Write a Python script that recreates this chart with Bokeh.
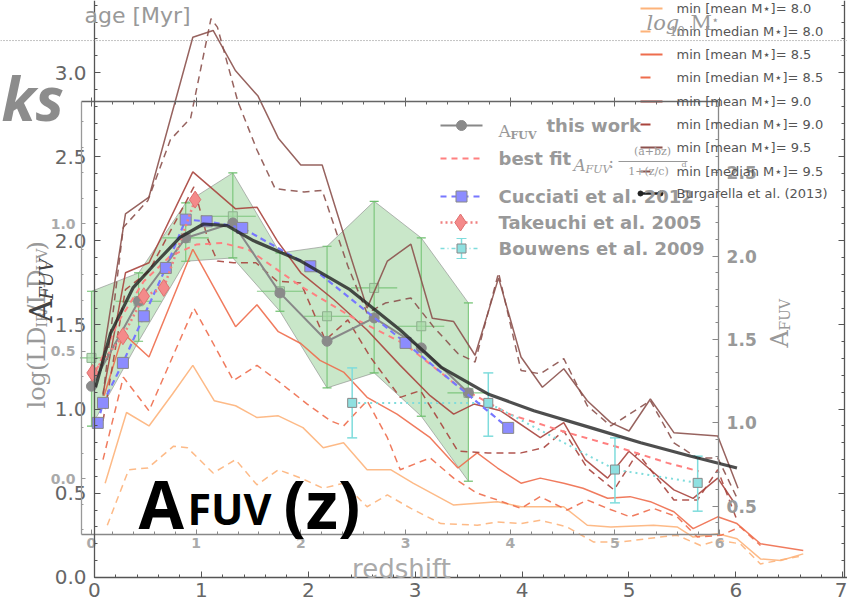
import math
from bokeh.plotting import figure
from bokeh.models import (Range1d, LinearAxis, FixedTicker, PrintfTickFormatter,
                          Label, Span)
from bokeh.embed import file_html
from bokeh.resources import INLINE

# ------------------------------------------------------------------
# Data
# ------------------------------------------------------------------
# Stellar-mass selected curves (outer axes: redshift vs value)
m80_mean_z = [0.10, 0.30, 0.51, 0.73, 0.92, 1.12, 1.32, 1.52, 1.72, 1.95, 2.14, 2.33, 2.55, 2.77, 2.98,
              3.36, 3.77, 3.99, 4.39, 4.61, 4.83, 5.23, 5.45, 5.60, 5.83, 6.01, 6.23, 6.42, 6.63]
m80_mean_v = [0.56, 0.98, 0.90, 1.09, 1.26, 1.05, 1.02, 0.95, 0.96, 0.89, 0.77, 0.80, 0.64, 0.64, 0.56,
              0.43, 0.45, 0.42, 0.42, 0.31, 0.30, 0.31, 0.30, 0.24, 0.26, 0.23, 0.11, 0.10, 0.14]
m80_med_z = [0.12, 0.32, 0.50, 0.74, 0.87, 1.11, 1.32, 1.52, 1.72, 1.93, 2.14, 2.33, 2.55, 2.74, 2.96, 3.24,
             3.58, 3.77, 3.99, 4.17, 4.42, 4.67, 4.92, 5.29, 5.45, 5.67, 5.83, 6.04, 6.23, 6.39, 6.63]
m80_med_v = [0.31, 0.64, 0.65, 0.78, 0.77, 0.62, 0.70, 0.55, 0.64, 0.59, 0.53, 0.56, 0.42, 0.49, 0.41, 0.32,
             0.31, 0.33, 0.32, 0.34, 0.30, 0.21, 0.21, 0.24, 0.25, 0.19, 0.22, 0.20, 0.08, 0.10, 0.13]
m85_mean_z = [0.09, 0.27, 0.51, 0.92, 1.32, 1.52, 1.72, 1.93, 2.11, 2.33, 2.55, 2.83, 3.14, 3.40, 3.58,
              3.77, 3.99, 4.17, 4.39, 4.57, 4.80, 5.01, 5.20, 5.42, 5.60, 5.83, 6.01, 6.23, 6.63]
m85_mean_v = [1.08, 1.45, 1.31, 1.95, 1.49, 1.62, 1.46, 1.39, 1.29, 1.22, 1.07, 0.97, 0.83, 0.65, 0.74,
              0.65, 0.56, 0.59, 0.56, 0.53, 0.47, 0.48, 0.45, 0.39, 0.29, 0.36, 0.32, 0.20, 0.16]
m85_med_z = [0.08, 0.27, 0.51, 0.93, 1.30, 1.52, 1.71, 1.99, 2.21, 2.33, 2.55, 2.74, 2.86, 3.14, 3.36,
             3.58, 3.77, 3.99, 4.17, 4.42, 4.61, 4.80, 5.01, 5.23, 5.45, 5.64, 5.86, 6.04, 6.23]
m85_med_v = [0.70, 1.19, 0.99, 1.60, 1.17, 1.26, 1.17, 1.03, 0.93, 0.90, 1.05, 0.83, 0.64, 0.71, 0.59,
             0.50, 0.46, 0.41, 0.48, 0.40, 0.46, 0.41, 0.36, 0.41, 0.36, 0.24, 0.25, 0.30, 0.19]
m90_mean_z = [0.08, 0.29, 0.51, 0.92, 1.32, 1.52, 1.71, 1.93, 2.24, 2.55, 2.86, 3.14, 3.36, 3.55, 3.80,
              4.17, 4.39, 4.59, 4.80, 5.00, 5.20, 5.42, 5.60, 5.83, 6.01]
m90_mean_v = [1.09, 1.81, 1.87, 2.41, 2.19, 2.20, 2.00, 1.81, 1.65, 1.47, 1.26, 1.08, 0.97, 1.03, 0.99,
              0.83, 0.92, 0.70, 0.59, 0.75, 0.64, 0.52, 0.47, 0.59, 0.42]
m90_med_z = [0.08, 0.29, 0.51, 0.93, 1.06, 1.15, 1.30, 1.51, 1.71, 1.93, 2.16, 2.37, 2.58, 2.86, 3.05,
             3.40, 3.68, 3.99, 4.20, 4.39, 4.61, 4.86, 5.08, 5.42, 5.64, 5.83, 6.01]
m90_med_v = [0.93, 1.71, 1.82, 2.32, 2.01, 1.88, 1.87, 1.87, 1.76, 1.75, 1.41, 1.53, 1.31, 1.07, 1.11,
             0.75, 0.74, 0.74, 0.77, 0.87, 0.65, 0.52, 0.74, 0.46, 0.46, 0.64, 0.34]
m95_mean_z = [0.06, 0.29, 0.51, 0.92, 1.11, 1.32, 1.53, 1.72, 1.93, 2.13, 2.37, 2.55, 2.74, 2.96, 3.16,
              3.36, 3.56, 3.78, 3.99, 4.19, 4.39, 4.61, 4.83, 5.00, 5.20, 5.42, 5.83, 6.02]
m95_mean_v = [1.23, 2.16, 2.26, 3.21, 3.25, 3.01, 2.86, 2.61, 2.45, 2.45, 1.96, 1.60, 1.88, 1.98, 1.54,
              1.52, 1.32, 1.78, 1.31, 1.13, 1.24, 1.05, 0.92, 0.87, 1.06, 0.86, 0.84, 0.53]
m95_med_z = [0.08, 0.27, 0.50, 0.71, 0.90, 1.09, 1.15, 1.34, 1.52, 1.69, 1.96, 2.13, 2.37, 2.55, 2.72,
             2.96, 3.17, 3.40, 3.56, 3.78, 3.99, 4.17, 4.39, 4.61, 4.83, 5.20, 5.42, 5.64, 5.83, 6.02]
m95_med_v = [1.08, 2.08, 2.24, 2.60, 2.73, 3.32, 3.27, 2.83, 2.54, 2.31, 2.29, 2.30, 1.85, 1.57, 1.63,
             1.66, 1.49, 1.33, 1.28, 1.81, 1.23, 1.21, 1.30, 1.02, 0.90, 1.05, 0.80, 0.71, 0.71, 0.46]

# Burgarella et al. (2013)
burg_z = [0.01, 0.15, 0.36, 0.59, 0.80, 1.02, 1.24, 1.49, 1.93, 2.39, 2.86, 3.24, 3.68, 4.11, 4.64,
          5.11, 5.58, 6.01]
burg_a = [1.13, 1.45, 1.72, 1.88, 2.02, 2.10, 2.09, 2.00, 1.88, 1.71, 1.47, 1.25, 1.09, 0.99, 0.89,
          0.80, 0.72, 0.65]

# A_FUV this work (inner axes: redshift vs A_FUV)
bins_z = [0.0, 0.45, 0.9, 1.35, 1.8, 2.25, 2.7, 3.15, 3.6]
this_work = [1.22, 1.73, 2.11, 2.20, 1.78, 1.49, 1.63, 1.45, 1.18]
band_hi = [1.79, 1.90, 2.32, 2.50, 2.02, 2.06, 2.33, 2.11, 1.72]
band_lo = [0.98, 1.49, 1.97, 1.99, 1.67, 1.21, 1.30, 1.04, 0.65]
green_sq = [1.39, 1.73, 2.11, 2.24, 1.79, 1.64, 1.81, 1.58, 1.18]
green_xerr = [0.11, 0.22, 0.22, 0.22, 0.22, 0.22, 0.22, 0.22, 0.20]

# best fit A_FUV = (a+bz)/(1+(z/c)^d), sampled along the drawn curve
fit_z = [0.0, 0.25, 0.5, 0.75, 1.0, 1.25, 1.5, 2.0, 2.5, 3.0, 3.5, 4.0, 4.5, 5.0, 5.5, 5.8]
fit_a = [1.25, 1.60, 1.85, 2.00, 2.07, 2.08, 2.04, 1.82, 1.63, 1.47, 1.22, 1.05, 0.95, 0.86, 0.76, 0.71]

# Cucciati et al. 2012
cuc_z = [0.06, 0.11, 0.30, 0.50, 0.71, 0.90, 1.10, 1.44, 2.09, 3.00, 3.98]
cuc_a = [1.00, 1.12, 1.36, 1.64, 1.93, 2.22, 2.21, 2.17, 1.94, 1.48, 0.97]

# Takeuchi et al. 2005
tak_z = [0.01, 0.30, 0.50, 0.69, 0.99]
tak_a = [1.30, 1.52, 1.76, 1.81, 2.34]

# Bouwens et al. 2009
bou_z = [2.49, 3.79, 5.00, 5.79]
bou_a = [1.12, 1.12, 0.72, 0.64]
bou_up = [0.21, 0.18, 0.19, 0.16]
bou_dn = [0.21, 0.20, 0.20, 0.17]

# Tick positions / labels
outer_xticks = [0, 1, 2, 3, 4, 5, 6, 7]
outer_yticks = [0.0, 0.5, 1.0, 1.5, 2.0, 2.5, 3.0]
inner_xticks = [0, 1, 2, 3, 4, 5, 6]
inner_rticks = [0.5, 1.0, 1.5, 2.0, 2.5]
inner_lticks = [0.0, 0.5, 1.0]

mass_labels = ["min [mean M\u22c6]= 8.0", "min [median M\u22c6]= 8.0",
               "min [mean M\u22c6]= 8.5", "min [median M\u22c6]= 8.5",
               "min [mean M\u22c6]= 9.0", "min [median M\u22c6]= 9.0",
               "min [mean M\u22c6]= 9.5", "min [median M\u22c6]= 9.5"]

# ------------------------------------------------------------------
# Figure
# ------------------------------------------------------------------
p = figure(width=847, height=603, x_range=Range1d(-0.879, 7.044), y_range=Range1d(-0.155, 3.428),
           output_backend="svg", toolbar_location=None, min_border=0, title=None,
           x_axis_location=None, y_axis_location=None, outline_line_color=None,
           background_fill_color="white", border_fill_color="white")
p.grid.visible = False

p.extra_x_ranges = {"z": Range1d(-0.869, 7.221), "sx": Range1d(0, 847)}
p.extra_y_ranges = {"afuv": Range1d(-0.084, 3.535), "ld": Range1d(-0.490, 1.875),
                    "sy": Range1d(603, 0)}

INNER = dict(x_range_name="z", y_range_name="afuv")
SCR = dict(x_range_name="sx", y_range_name="sy")
ONE_DEC = PrintfTickFormatter(format="%.1f")


def minor(a, b, step):
    n = int(round((b - a) / step))
    return [round(a + i * step, 3) for i in range(n + 1)]


def style(ax, size, color, line="#555"):
    ax.axis_line_color = line
    ax.axis_line_width = 1.3
    ax.major_tick_line_color = line
    ax.minor_tick_line_color = line
    ax.major_label_text_color = color
    ax.major_label_text_font = "DejaVu Sans"
    ax.major_label_text_font_size = f"{size}px"


def bare_axis(side, loc, bounds, majors, minors, major_in, minor_in, line, major_out=0, **names):
    """An unlabelled frame edge: one axis carries the long ticks, a second the short ones."""
    a1 = LinearAxis(fixed_location=loc, bounds=bounds, ticker=FixedTicker(ticks=[], minor_ticks=majors),
                    minor_tick_in=major_in, minor_tick_out=major_out, **names)
    a1.axis_line_color = line
    a1.axis_line_width = 1.3
    a1.minor_tick_line_color = line
    p.add_layout(a1, side)
    a2 = LinearAxis(fixed_location=loc, bounds=bounds, ticker=FixedTicker(ticks=[], minor_ticks=minors),
                    minor_tick_in=minor_in, minor_tick_out=0, **names)
    a2.axis_line_color = None
    a2.minor_tick_line_color = line
    p.add_layout(a2, side)


# outer axes
ax = LinearAxis(fixed_location=0, bounds=(0, 3.43),
                ticker=FixedTicker(ticks=outer_yticks, minor_ticks=minor(0, 3.4, 0.1)),
                major_tick_in=6, major_tick_out=0, minor_tick_in=3, minor_tick_out=0,
                major_label_standoff=8, formatter=ONE_DEC)
style(ax, 20, "#666")
p.add_layout(ax, "left")

ax = LinearAxis(fixed_location=0, bounds=(0, 7.05),
                ticker=FixedTicker(ticks=outer_xticks, minor_ticks=minor(0, 7, 0.2)),
                major_tick_in=6, major_tick_out=0, minor_tick_in=3, minor_tick_out=0,
                major_label_standoff=6)
style(ax, 20, "#666")
p.add_layout(ax, "below")

bare_axis("right", 7.02, (0, 3.43), outer_yticks, minor(0, 3.4, 0.1), 6, 3, "#555")

# inner axes
ax = LinearAxis(fixed_location=0.33, bounds=(-0.095, 5.99), **INNER,
                ticker=FixedTicker(ticks=inner_xticks, minor_ticks=minor(0, 6, 0.2)),
                major_tick_in=5, major_tick_out=0, minor_tick_in=3, minor_tick_out=0,
                major_label_standoff=3)
style(ax, 14, "#aaa", line="#888")
ax.major_label_text_font_style = "bold"
p.add_layout(ax, "below")

bare_axis("above", 2.93, (-0.095, 5.99), inner_xticks, minor(0, 6, 0.2), 5, 3, "#666",
          major_out=4, **INNER)

ax = LinearAxis(fixed_location=5.99, bounds=(0.33, 2.93), **INNER,
                ticker=FixedTicker(ticks=inner_rticks, minor_ticks=minor(0.4, 2.9, 0.1)),
                major_tick_in=6, major_tick_out=0, minor_tick_in=3, minor_tick_out=0,
                major_label_standoff=8, formatter=ONE_DEC)
style(ax, 17, "#999", line="#888")
ax.major_label_text_font_style = "bold"
p.add_layout(ax, "right")

ax = LinearAxis(fixed_location=-0.095, bounds=(-0.22, 1.478), x_range_name="z", y_range_name="ld",
                ticker=FixedTicker(ticks=inner_lticks, minor_ticks=minor(-0.2, 1.4, 0.1)),
                major_tick_in=4, major_tick_out=0, minor_tick_in=2, minor_tick_out=0,
                major_label_standoff=6, formatter=ONE_DEC)
style(ax, 14, "#aaa", line="#999")
ax.major_label_text_font_style = "bold"
p.add_layout(ax, "left")

p.add_layout(Span(location=3.19, dimension="width", line_color="#888",
                  line_dash="1 2", line_width=1))

# ------------------------------------------------------------------
# Inner band (this work, uncertainty envelope)
# ------------------------------------------------------------------
p.varea(x=bins_z, y1=band_lo, y2=band_hi, fill_color="#4cae4c", fill_alpha=0.3, **INNER)
p.line(bins_z, band_hi, line_color="#888", line_alpha=0.6, line_width=1, **INNER)
p.line(bins_z, band_lo, line_color="#888", line_alpha=0.6, line_width=1, **INNER)
p.segment(x0=bins_z, y0=band_lo, x1=bins_z, y1=band_hi, line_color="#6cbf6c",
          line_alpha=0.8, line_width=1.2, **INNER)
p.scatter(bins_z, band_lo, marker="dash", size=9, line_color="#6cbf6c", line_width=1.2, **INNER)
p.scatter(bins_z, band_hi, marker="dash", size=9, line_color="#6cbf6c", line_width=1.2, **INNER)
p.segment(x0=[z - e for z, e in zip(bins_z, green_xerr)], y0=green_sq,
          x1=[z + e for z, e in zip(bins_z, green_xerr)], y1=green_sq,
          line_color="#6cbf6c", line_alpha=0.8, line_width=1.2, **INNER)
p.scatter(bins_z, green_sq, marker="square", size=9, fill_color="#a6d8a6", fill_alpha=0.7,
          line_color="#8fb08f", **INNER)

# ------------------------------------------------------------------
# Stellar-mass curves
# ------------------------------------------------------------------
c80, c85, c90, c95 = "#fdb37a", "#ee6d4d", "#a9443d", "#8c524e"
mass_curves = [
    (m80_mean_z, m80_mean_v, c80, "solid"), (m80_med_z, m80_med_v, c80, "7 5"),
    (m85_mean_z, m85_mean_v, c85, "solid"), (m85_med_z, m85_med_v, c85, "7 5"),
    (m90_mean_z, m90_mean_v, c90, "solid"), (m90_med_z, m90_med_v, c90, "7 5"),
    (m95_mean_z, m95_mean_v, c95, "solid"), (m95_med_z, m95_med_v, c95, "7 5"),
]
for zs, vs, col, dash in mass_curves:
    p.line(zs, vs, line_color=col, line_width=1.5, line_dash=dash, line_alpha=0.9)

# ------------------------------------------------------------------
# Literature and this work
# ------------------------------------------------------------------
bou_lo = [a - d for a, d in zip(bou_a, bou_dn)]
bou_hi = [a + u for a, u in zip(bou_a, bou_up)]

p.line(fit_z, fit_a, line_color="#ff8080", line_width=2, line_dash="6 5", **INNER)
p.line(bou_z, bou_a, line_color="#7fdcdc", line_width=2, line_dash="2 4", **INNER)
p.segment(x0=bou_z, y0=bou_lo, x1=bou_z, y1=bou_hi, line_color="#7fdcdc", line_width=1.5, **INNER)
p.scatter(bou_z, bou_lo, marker="dash", size=10, line_color="#7fdcdc", line_width=1.5, **INNER)
p.scatter(bou_z, bou_hi, marker="dash", size=10, line_color="#7fdcdc", line_width=1.5, **INNER)
p.scatter(bou_z, bou_a, marker="square", size=9, fill_color="#8ee0e0", line_color="#888", **INNER)

p.line(bins_z, this_work, line_color="#888", line_width=2, **INNER)
p.scatter(bins_z, this_work, marker="circle", size=10, fill_color="#8a8a8a", line_color="#8a8a8a", **INNER)

p.line(cuc_z, cuc_a, line_color="#7777ff", line_width=2.2, line_dash="6 4", **INNER)
p.scatter(cuc_z, cuc_a, marker="square", size=11, fill_color="#8c8cff", line_color="#888", **INNER)

p.line(tak_z, tak_a, line_color="#f08080", line_width=2.5, line_dash="2 3", **INNER)
p.scatter(tak_z, tak_a, marker="diamond", size=17, fill_color="#f48a8a", line_color="#e07070", **INNER)

p.line(burg_z, burg_a, line_color="#222", line_width=3.2, line_alpha=0.8)

# ------------------------------------------------------------------
# Legends (drawn in pixel space)
# ------------------------------------------------------------------
def txt(x, y, s, size, color="#999", font="DejaVu Sans", style_="normal", align="left",
        baseline="middle", angle=0.0):
    p.add_layout(Label(x=x, y=y, text=s, **SCR, text_font=font, text_font_size=f"{size}px",
                       text_color=color, text_font_style=style_, text_align=align,
                       text_baseline=baseline, angle=angle))


rows = [125, 158, 196, 222, 248]
p.line([440, 482], [rows[0], rows[0]], line_color="#888", line_width=2, **SCR)
p.scatter([461], [rows[0]], marker="circle", size=10, fill_color="#8a8a8a", line_color="#8a8a8a", **SCR)
p.line([440, 482], [rows[1], rows[1]], line_color="#ff8080", line_width=2, line_dash="6 5", **SCR)
p.line([440, 482], [rows[2], rows[2]], line_color="#7777ff", line_width=2, line_dash="6 5", **SCR)
p.scatter([461], [rows[2]], marker="square", size=11, fill_color="#8c8cff", line_color="#888", **SCR)
p.line([440, 480], [rows[3], rows[3]], line_color="#f08080", line_width=2.5, line_dash="2 3", **SCR)
p.scatter([460], [rows[3]], marker="diamond", size=17, fill_color="#f48a8a", line_color="#e07070", **SCR)
p.line([440, 480], [rows[4], rows[4]], line_color="#7fdcdc", line_width=1.5, line_dash="4 3 1 3", **SCR)
p.segment(x0=[461], y0=[rows[4] - 10], x1=[461], y1=[rows[4] + 10], line_color="#7fdcdc", line_width=1.5, **SCR)
p.scatter([461, 461], [rows[4] - 10, rows[4] + 10], marker="dash", size=10, line_color="#7fdcdc", **SCR)
p.scatter([461], [rows[4]], marker="square", size=9, fill_color="#8ee0e0", line_color="#888", **SCR)

txt(498, 130, "A", 17, font="DejaVu Serif", baseline="alphabetic")
txt(510, 135, "FUV", 11, font="DejaVu Serif", style_="bold", baseline="alphabetic")
txt(546, rows[0], "this work", 18, style_="bold")
txt(498, rows[1], "best fit", 18, style_="bold")
txt(573, 164, "A", 17, font="DejaVu Serif", style_="italic", baseline="alphabetic")
txt(585, 169, "FUV", 11, font="DejaVu Serif", style_="italic", baseline="alphabetic")
txt(608, 162, ":", 16, font="DejaVu Serif", baseline="alphabetic")
txt(652, 151, "(a+bz)", 11, font="DejaVu Serif", align="center")
p.line([618, 687], [161, 161], line_color="#999", line_width=1, **SCR)
txt(648, 171, "1+(z/c)", 11, font="DejaVu Serif", align="center")
txt(681, 164, "d", 8, font="DejaVu Serif")
txt(498, rows[2], "Cucciati et al. 2012", 18, style_="bold")
txt(498, rows[3], "Takeuchi et al. 2005", 18, style_="bold")
txt(498, rows[4], "Bouwens et al. 2009", 18, style_="bold")

mrows = [8, 31, 54, 77, 101, 124, 147, 171]
mcols = [c80, c80, c85, c85, c90, c90, c95, c95]
for i, (yy, col, lab) in enumerate(zip(mrows, mcols, mass_labels)):
    if i % 2 == 0:
        p.line([640, 662], [yy, yy], line_color=col, line_width=2, **SCR)
    else:
        p.line([640, 662], [yy, yy], line_color=col, line_width=2, line_dash="10 12", **SCR)
    txt(676, yy, lab, 13, color="#555")
p.line([638, 662], [193, 193], line_color="#222", line_width=2.5, **SCR)
p.scatter([640, 660], [193, 193], marker="circle", size=5, fill_color="#222", line_color="#222", **SCR)
txt(676, 193, "Burgarella et al. (2013)", 13, color="#555")

# ------------------------------------------------------------------
# Axis titles and annotations
# ------------------------------------------------------------------
txt(84, 15, "age [Myr]", 22, color="#999")
txt(646, 22, "log", 21, color="#999", font="DejaVu Serif", style_="italic")
txt(669, 30, "10", 12, color="#999", font="DejaVu Serif")
txt(690, 22, "M", 21, color="#999", font="DejaVu Serif")
txt(711, 19, "\u22c6", 12, color="#999")
txt(401, 568, "redshift", 26, color="#aaa", align="center")

up = math.pi / 2
txt(36, 408, "log(LD", 24, color="#999", font="DejaVu Serif", baseline="alphabetic", angle=up)
txt(41, 327, "IR", 14, color="#999", font="DejaVu Serif", baseline="alphabetic", angle=up)
txt(36, 312, "/LD", 24, color="#999", font="DejaVu Serif", baseline="alphabetic", angle=up)
txt(41, 270, "UV", 14, color="#999", font="DejaVu Serif", baseline="alphabetic", angle=up)
txt(36, 250, ")", 24, color="#999", font="DejaVu Serif", baseline="alphabetic", angle=up)
txt(40, 322, "A", 32, color="#444", font="DejaVu Serif", baseline="alphabetic", angle=up)
txt(46, 299, "FUV", 18, color="#444", font="DejaVu Serif", style_="italic", baseline="alphabetic", angle=up)

txt(779, 347, "A", 24, color="#999", font="DejaVu Serif", baseline="alphabetic", angle=up)
txt(784, 330, "FUV", 14, color="#999", font="DejaVu Serif", baseline="alphabetic", angle=up)

txt(1, 97, "ks", 60, color="#8c8c8c", font="Open Sans", style_="bold italic", baseline="alphabetic")
txt(138, 502, "A", 66, color="#000", font="Open Sans", style_="bold", baseline="alphabetic")
txt(187, 508, "FUV", 43, color="#000", font="Open Sans", style_="bold", baseline="alphabetic")
txt(283, 502, "(z)", 66, color="#000", font="Open Sans", style_="bold", baseline="alphabetic")

open("out.html", "w").write(file_html(p, INLINE))
